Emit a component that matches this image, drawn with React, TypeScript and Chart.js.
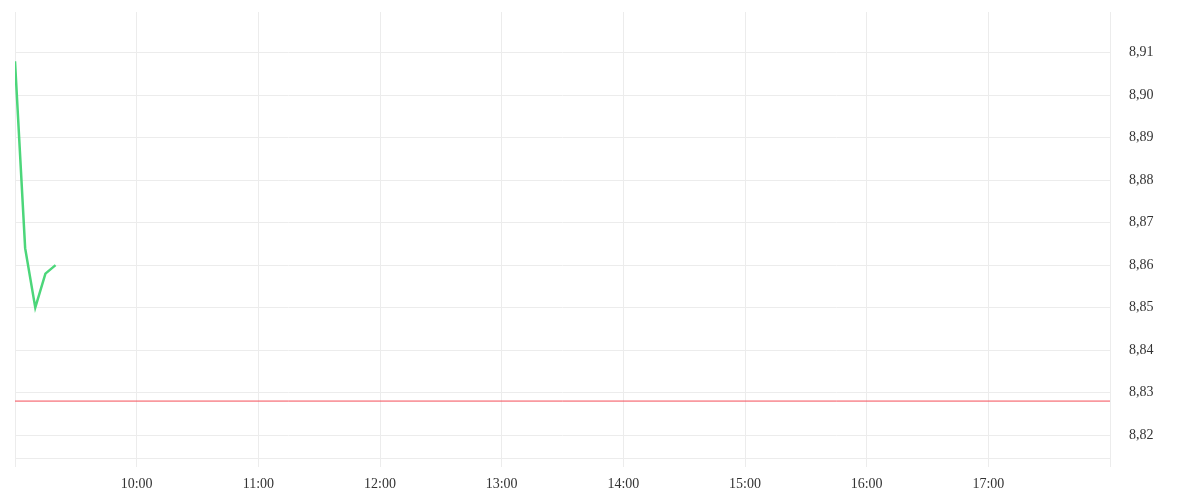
import React, { useEffect, useRef } from "react";
import Chart from "chart.js/auto";

// minutes since midnight
const priceTimes = [540, 545, 550, 555, 560];
const priceValues = [8.908, 8.864, 8.85, 8.858, 8.86];
const refTimes = [540, 1080];
const refValue = 8.828;
const hourTicks = ["9:00", "10:00", "11:00", "12:00", "13:00", "14:00", "15:00", "16:00", "17:00", "18:00"];
const priceTicks = [8.82, 8.83, 8.84, 8.85, 8.86, 8.87, 8.88, 8.89, 8.9, 8.91];

const App: React.FC = () => {
  const canvasRef = useRef<HTMLCanvasElement | null>(null);
  const chartRef = useRef<Chart | null>(null);

  useEffect(() => {
    document.body.style.margin = "0";
    if (!canvasRef.current) return;
    if (chartRef.current) chartRef.current.destroy();

    const ctx = canvasRef.current.getContext("2d");
    if (!ctx) return;

    chartRef.current = new Chart(ctx, {
      type: "line",
      data: {
        datasets: [
          {
            data: priceTimes.map((t, i) => ({ x: t, y: priceValues[i] })),
            borderColor: "#4cd67a",
            borderWidth: 2.5,
            pointRadius: 0,
            tension: 0,
          },
          {
            data: refTimes.map((t) => ({ x: t, y: refValue })),
            borderColor: "#f44d57",
            borderWidth: 1,
            pointRadius: 0,
          },
        ],
      },
      options: {
        animation: false,
        responsive: false,
        layout: { padding: { left: 15, top: 12, right: 0, bottom: 0 } },
        plugins: { legend: { display: false }, tooltip: { enabled: false } },
        scales: {
          x: {
            type: "linear",
            min: 540,
            max: 1080,
            afterFit: (axis: any) => {
              axis.height = 42;
            },
            ticks: {
              stepSize: 60,
              maxRotation: 0,
              color: "#333",
              padding: 9,
              font: { family: "Liberation Serif", size: 14 },
              callback: (v: any) => {
                const idx = Math.round((Number(v) - 540) / 60);
                if (idx === 0 || idx === hourTicks.length - 1) return "";
                return hourTicks[idx];
              },
            },
            grid: { color: "#ececec", tickLength: 9 },
            border: { color: "#ececec" },
          },
          y: {
            position: "right",
            min: 8.8146,
            max: 8.9196,
            afterBuildTicks: (axis: any) => {
              axis.ticks = priceTicks.map((v) => ({ value: v }));
            },
            afterFit: (axis: any) => {
              axis.width = 90;
            },
            ticks: {
              color: "#333",
              padding: 0,
              font: { family: "Liberation Serif", size: 14 },
              callback: (v: any) => Number(v).toFixed(2).replace(".", ","),
            },
            grid: { color: "#ececec", drawTicks: true, tickLength: 19, tickColor: "rgba(0,0,0,0)" },
            border: { color: "#ececec" },
          },
        },
      },
    });

    return () => {
      if (chartRef.current) {
        chartRef.current.destroy();
        chartRef.current = null;
      }
    };
  }, []);

  return <canvas ref={canvasRef} width={1200} height={500}></canvas>;
};

export default App;
